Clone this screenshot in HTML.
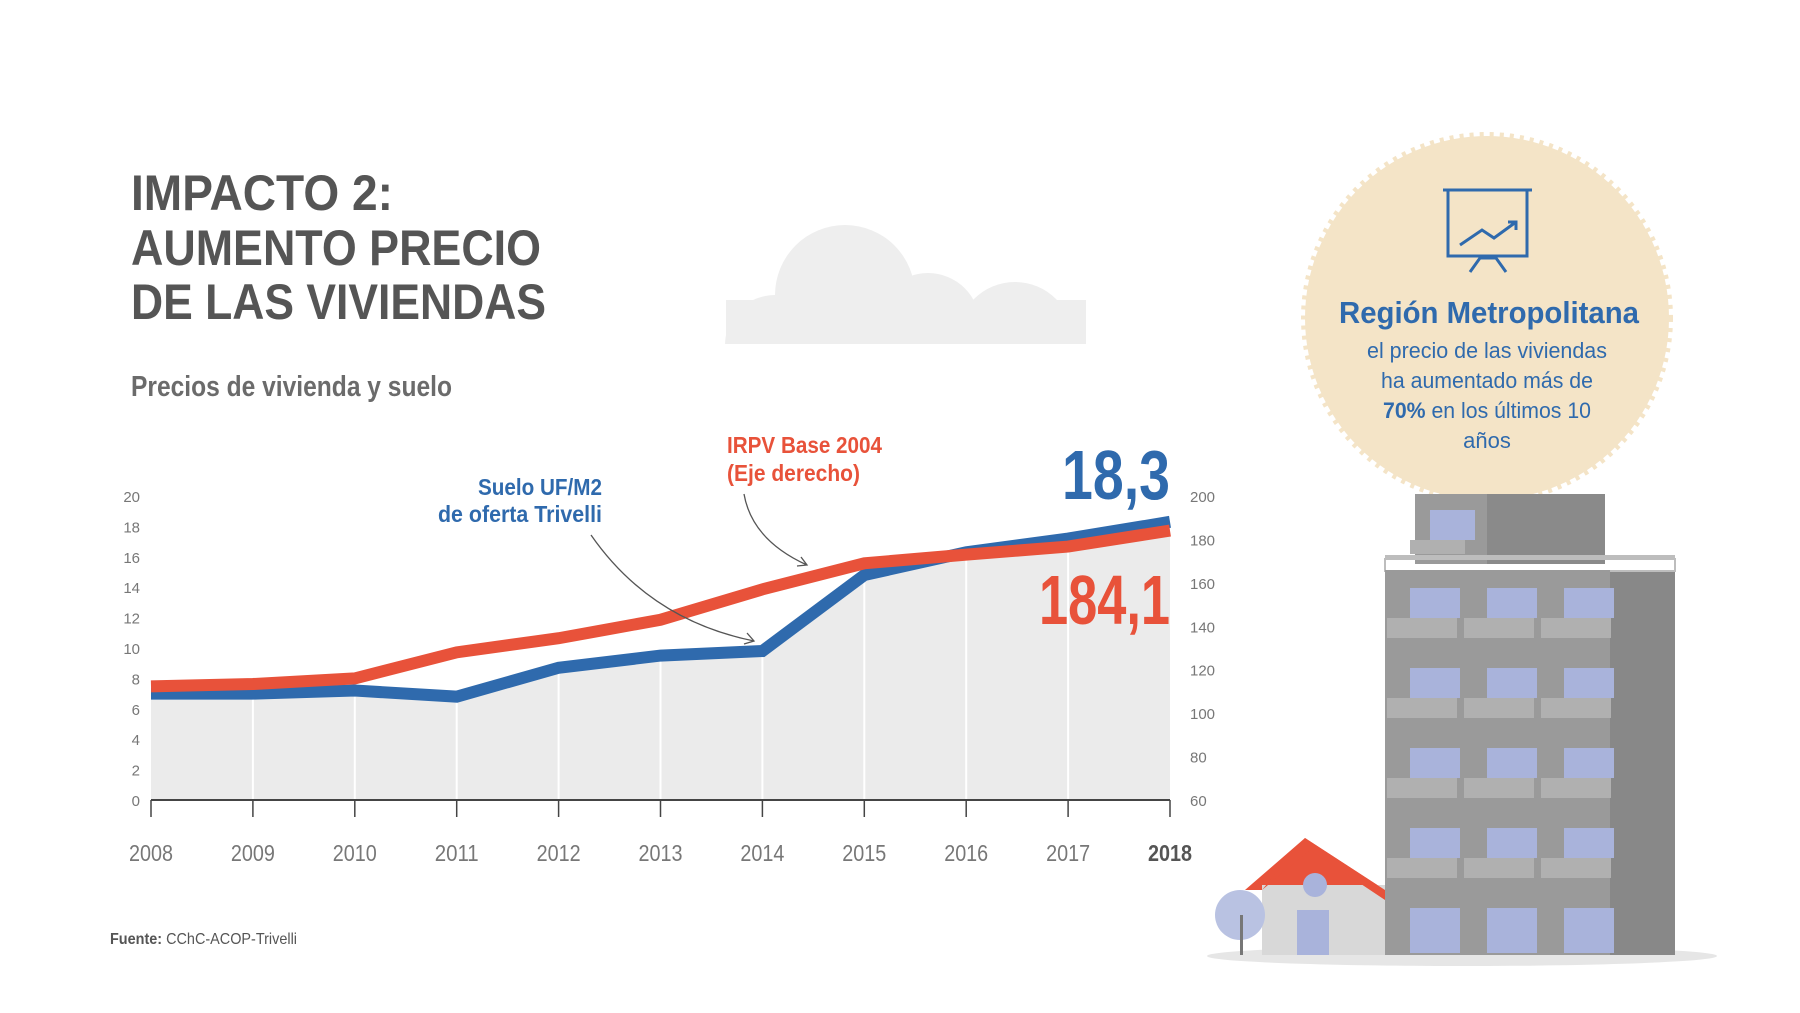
<!DOCTYPE html>
<html><head><meta charset="utf-8"><style>
body{margin:0;background:#fff;width:1800px;height:1013px;overflow:hidden}
svg{display:block;font-family:"Liberation Sans",sans-serif}
</style></head><body>
<svg id="s" width="1800" height="1013" viewBox="0 0 1800 1013">
<g fill="#555" font-weight="bold" font-size="50">
<text x="131" y="210" textLength="262" lengthAdjust="spacingAndGlyphs">IMPACTO 2:</text>
<text x="131" y="265" textLength="410" lengthAdjust="spacingAndGlyphs">AUMENTO PRECIO</text>
<text x="131" y="319" textLength="415" lengthAdjust="spacingAndGlyphs">DE LAS VIVIENDAS</text>
</g>
<g fill="#eeeeee">
<circle cx="845" cy="295" r="70"/><circle cx="928" cy="325" r="52"/><circle cx="1015" cy="340" r="58"/><circle cx="775" cy="345" r="50"/>
<rect x="726" y="300" width="360" height="44"/>
</g>
<rect x="0" y="344" width="1800" height="80" fill="#fff"/>
<text x="131" y="396" font-size="29" font-weight="bold" fill="#6b6b6b" textLength="321" lengthAdjust="spacingAndGlyphs">Precios de vivienda y suelo</text>
<g id="chart"></g>
<g>
<circle cx="1487" cy="318" r="182" fill="#f4e4c7" stroke="#f4e4c7" stroke-width="8" stroke-dasharray="4 6"/>
<g fill="none" stroke="#2f6aad" stroke-width="3">
<line x1="1443" y1="190" x2="1532" y2="190"/><rect x="1448" y="190" width="79" height="66"/>
<polyline points="1460,245 1482,230 1494,238 1516,222"/><polyline points="1508,222 1516,222 1516,230"/>
<polyline points="1470,272 1480,258 1496,258 1506,272"/>
</g>
<text x="1489" y="323" text-anchor="middle" font-size="31" font-weight="bold" fill="#2f6aad" textLength="300" lengthAdjust="spacingAndGlyphs">Región Metropolitana</text>
<g font-size="22" fill="#2f6aad" text-anchor="middle">
<text x="1487" y="358" textLength="240" lengthAdjust="spacingAndGlyphs">el precio de las viviendas</text>
<text x="1487" y="388" textLength="212" lengthAdjust="spacingAndGlyphs">ha aumentado más de</text>
<text x="1487" y="418" textLength="208" lengthAdjust="spacingAndGlyphs"><tspan font-weight="bold">70%</tspan> en los últimos 10</text>
<text x="1487" y="448">años</text>
</g>
</g>
<g>
<ellipse cx="1462" cy="956" rx="255" ry="10" fill="#e6e6e6"/>
<rect x="1415" y="494" width="190" height="70" fill="#8a8a8a"/>
<rect x="1415" y="494" width="72" height="70" fill="#9a9a9a"/>
<rect x="1430" y="510" width="45" height="30" fill="#a9b3db"/>
<rect x="1410" y="540" width="55" height="14" fill="#b0b0b0"/>
<rect x="1385" y="555" width="290" height="4" fill="#bdbdbd"/>
<rect x="1385" y="559" width="290" height="12" fill="none" stroke="#bdbdbd" stroke-width="2"/>
<rect x="1385" y="570" width="225" height="385" fill="#9a9a9a"/>
<rect x="1610" y="572" width="65" height="383" fill="#888"/>
<g id="floors"></g>
<path d="M1245 890 L1305 838 L1385 890 Z" fill="#e8523a"/>
<rect x="1262" y="885" width="123" height="70" fill="#d8d8d8"/>
<path d="M1262 890 L1310 850 L1385 900 L1385 890 L1305 838 Z" fill="#e8523a"/>
<rect x="1297" y="910" width="32" height="45" fill="#a9b3db"/>
<circle cx="1315" cy="885" r="12" fill="#a9b3db"/>
<circle cx="1240" cy="915" r="25" fill="#b9c2e2"/>
<rect x="1240" y="915" width="3" height="40" fill="#777"/>
</g>
<text x="110" y="944" font-size="16" fill="#555" textLength="187" lengthAdjust="spacingAndGlyphs"><tspan font-weight="bold">Fuente:</tspan> CChC-ACOP-Trivelli</text>
</svg>
<script>
const years=[2008,2009,2010,2011,2012,2013,2014,2015,2016,2017,2018];
const suelo=[7.0,7.0,7.2,6.8,8.7,9.5,9.8,14.8,16.3,17.2,18.3];
const irpv=[112.3,113.4,116,128,134.5,143,157,169,173,176.7,184.1];
const leftTicks=[0,2,4,6,8,10,12,14,16,18,20];
const rightTicks=[60,80,100,120,140,160,180,200];
const NS="http://www.w3.org/2000/svg";
const x0=151,x1=1170,yB=800,yT=496;
const xs=i=>x0+(x1-x0)*i/(years.length-1);
const yl=v=>yB-(yB-yT)*v/20;
const yr=v=>yB-(yB-yT)*(v-60)/140;
const g=document.getElementById('chart');
function mk(t,a,p){const e=document.createElementNS(NS,t);for(const k in a)e.setAttribute(k,a[k]);(p||g).appendChild(e);return e;}
let d='M'+x0+' '+yB;suelo.forEach((v,i)=>d+=' L'+xs(i)+' '+yl(v));d+=' L'+x1+' '+yB+'Z';
const area=mk('path',{d:d,fill:'#ebebeb'});


years.forEach((y,i)=>{if(i>0&&i<years.length-1){const l=mk('line',{x1:xs(i),x2:xs(i),y1:yB,y2:yl(suelo[i]),stroke:'#fff','stroke-width':2});

}
const tk=mk('line',{x1:xs(i),x2:xs(i),y1:yB,y2:817,stroke:'#444','stroke-width':1.5});


const t=mk('text',{x:xs(i),y:861,'text-anchor':'middle','font-size':23,fill:i==years.length-1?'#555':'#777','font-weight':i==years.length-1?'bold':'normal',textLength:44,lengthAdjust:'spacingAndGlyphs'});t.textContent=y;

});
const ax=mk('line',{x1:x0,x2:x1,y1:yB,y2:yB,stroke:'#444','stroke-width':2});


leftTicks.forEach(v=>{const t=mk('text',{x:140,y:yl(v)+6,'text-anchor':'end','font-size':15,fill:'#777'});t.textContent=v;

});
rightTicks.forEach(v=>{const t=mk('text',{x:1190,y:yr(v)+6,'font-size':15,fill:'#777'});t.textContent=v;

});
const pb=mk('polyline',{points:suelo.map((v,i)=>xs(i)+','+yl(v)).join(' '),fill:'none',stroke:'#2f6aad','stroke-width':12});


const pr=mk('polyline',{points:irpv.map((v,i)=>xs(i)+','+yr(v)).join(' '),fill:'none',stroke:'#e8523a','stroke-width':12});


function lab(txt,x,y,fs,col,anchor,len,name){const t=mk('text',{x:x,y:y,'font-size':fs,'font-weight':'bold',fill:col,'text-anchor':anchor,textLength:len,lengthAdjust:'spacingAndGlyphs'});t.textContent=txt;

}
lab('IRPV Base 2004',727,453,23,'#e8523a','start',155,'irpv-annotation');
lab('(Eje derecho)',727,481,23,'#e8523a','start',133,'irpv-annotation');
lab('Suelo UF/M2',602,495,23,'#2f6aad','end',124,'suelo-annotation');
lab('de oferta Trivelli',602,522,23,'#2f6aad','end',164,'suelo-annotation');
lab('18,3',1170,499,70,'#2f6aad','end',108,'suelo-last-value');
lab('184,1',1170,624,70,'#e8523a','end',131,'irpv-last-value');
const a1=mk('path',{d:'M744 494 Q752 540 807 565 M797 566 L807 565 L801 557',fill:'none',stroke:'#555','stroke-width':1.3});


const a2=mk('path',{d:'M591 535 Q650 620 754 641 M744 644 L754 641 L747 633',fill:'none',stroke:'#555','stroke-width':1.3});


const fl=document.getElementById('floors');
for(let r=0;r<5;r++)for(let c=0;c<3;c++){const bx=1400+c*77,by=588+r*80;
mk('rect',{x:bx+10,y:by,width:50,height:r==4?45:30,fill:'#a9b3db'},fl);
if(r<4)mk('rect',{x:bx-13,y:by+30,width:70,height:20,fill:'#b0b0b0'},fl);}
</script>
</body></html>
